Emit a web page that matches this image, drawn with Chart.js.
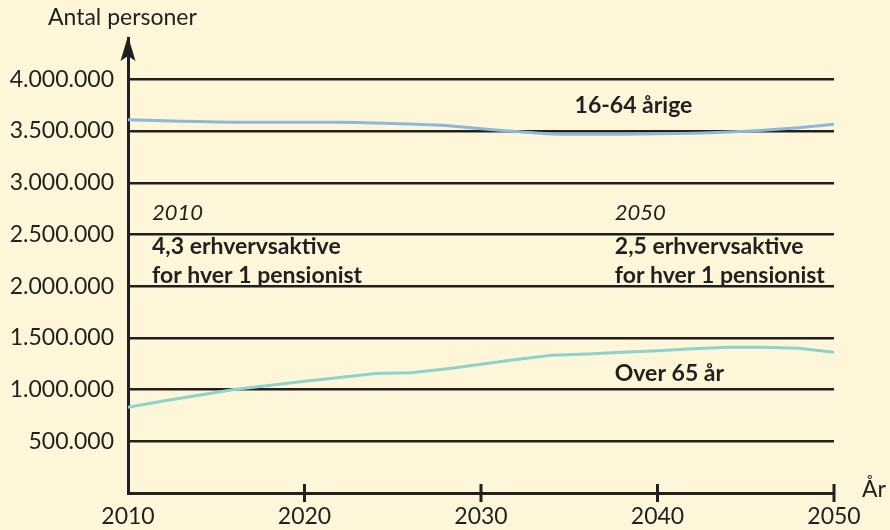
<!DOCTYPE html>
<html>
<head>
<meta charset="utf-8">
<script src="https://cdn.jsdelivr.net/npm/chart.js@4.4.1/dist/chart.umd.min.js"></script>
<style>
  html, body { margin: 0; padding: 0; background: #fdf6d8; }
  #wrap { width: 890px; height: 530px; }
</style>
</head>
<body>
<div id="wrap"><canvas id="myChart" width="890" height="530"></canvas></div>
<script>
// data
var years = [2010, 2012, 2014, 2016, 2018, 2020, 2022, 2024, 2026, 2028, 2030,
             2032, 2034, 2036, 2038, 2040, 2042, 2044, 2046, 2048, 2050];
var age16to64 = [3610000, 3600000, 3592000, 3586000, 3585000, 3585000, 3585000, 3578000, 3568000, 3555000, 3522000,
                 3495000, 3472000, 3470000, 3470000, 3474000, 3480000, 3490000, 3508000, 3533000, 3565000];
var over65 = [830000, 890000, 945000, 1000000, 1040000, 1080000, 1118000, 1155000, 1162000, 1200000, 1245000,
              1290000, 1333000, 1345000, 1360000, 1375000, 1395000, 1410000, 1410000, 1400000, 1362000];
var yTicks = [500000, 1000000, 1500000, 2000000, 2500000, 3000000, 3500000, 4000000];
var xTicks = [2010, 2020, 2030, 2040, 2050];

var ink = '#231f20';
var font = 'Lato, "Noto Sans", sans-serif';

function dots(v) {
  return String(v).replace(/\B(?=(\d{3})+(?!\d))/g, '.');
}

var decor = {
  id: 'decor',
  beforeDraw: function(chart) {
    var c = chart.ctx;
    c.save();
    c.fillStyle = '#fdf6d8';
    c.fillRect(0, 0, chart.width, chart.height);
    c.restore();
  },
  afterDraw: function(chart) {
    var c = chart.ctx;
    var xs = chart.scales.x, ys = chart.scales.y;
    var x0 = xs.left, yb = ys.bottom;
    c.save();
    c.fillStyle = ink;
    c.strokeStyle = ink;

    // arrow on top of the y axis
    var top = ys.top;
    c.beginPath();
    c.moveTo(x0, top - 2);
    c.lineTo(x0 - 7.5, top + 23);
    c.lineTo(x0, top + 18);
    c.lineTo(x0 + 7.5, top + 23);
    c.closePath();
    c.fill();

    // tick marks crossing the x axis
    c.lineWidth = 3;
    xTicks.forEach(function(t) {
      if (t === xTicks[0]) return;
      var px = xs.getPixelForValue(t);
      c.beginPath();
      c.moveTo(px, yb - 9);
      c.lineTo(px, yb + 9);
      c.stroke();
    });

    c.textBaseline = 'middle';
    c.textAlign = 'left';
    c.font = '23px ' + font;
    c.fillText('Antal personer', 48, 18);
    c.fillText('År', 862, 490);

    function txt(s, xv, yv, f) {
      c.font = f;
      c.fillText(s, xs.getPixelForValue(xv), ys.getPixelForValue(yv));
    }
    var bold = 'bold 23px ' + font;
    var ital = 'italic 22px ' + font;
    txt('16-64 årige', 2035.3, 3750000, bold);
    txt('2010', 2011.36, 2705000, ital);
    txt('4,3 erhvervsaktive', 2011.36, 2386000, bold);
    txt('for hver 1 pensionist', 2011.36, 2106000, bold);
    txt('2050', 2037.58, 2705000, ital);
    txt('2,5 erhvervsaktive', 2037.58, 2386000, bold);
    txt('for hver 1 pensionist', 2037.58, 2106000, bold);
    txt('Over 65 år', 2037.58, 1159000, bold);
    c.restore();
  }
};

var ctx = document.getElementById('myChart').getContext('2d');
var myChart = new Chart(ctx, {
  type: 'line',
  data: {
    labels: years,
    datasets: [{
      label: '16-64 årige',
      data: years.map(function(y, i) { return {x: y, y: age16to64[i]}; }),
      borderColor: '#8db8da',
      borderWidth: 3,
      pointRadius: 0,
      tension: 0.2
    }, {
      label: 'Over 65 år',
      data: years.map(function(y, i) { return {x: y, y: over65[i]}; }),
      borderColor: '#8ed2cc',
      borderWidth: 3,
      pointRadius: 0,
      tension: 0
    }]
  },
  options: {
    responsive: false,
    animation: false,
    layout: { padding: { top: 38, right: 56, left: 0, bottom: 0 } },
    plugins: {
      legend: { display: false },
      tooltip: { enabled: false }
    },
    scales: {
      x: {
        type: 'linear',
        min: 2010,
        max: 2050,
        afterBuildTicks: function(s) { s.ticks = xTicks.map(function(v) { return {value: v}; }); },
        afterFit: function(s) { s.height = 37; },
        grid: { drawOnChartArea: false, drawTicks: false },
        border: { display: true, color: ink, width: 3 },
        ticks: {
          padding: 10,
          color: ink,
          font: { family: font, size: 23 },
          maxRotation: 0,
          callback: function(v) { return String(v); }
        }
      },
      y: {
        min: 0,
        max: 4400000,
        afterBuildTicks: function(s) { s.ticks = yTicks.map(function(v) { return {value: v}; }); },
        afterFit: function(s) { s.width = 128; },
        grid: { color: ink, lineWidth: 2.5, drawTicks: false },
        border: { display: true, color: ink, width: 3 },
        ticks: {
          padding: 14,
          color: ink,
          font: { family: font, size: 23 },
          callback: function(v) { return dots(v); }
        }
      }
    }
  },
  plugins: [decor]
});
</script>
</body>
</html>
